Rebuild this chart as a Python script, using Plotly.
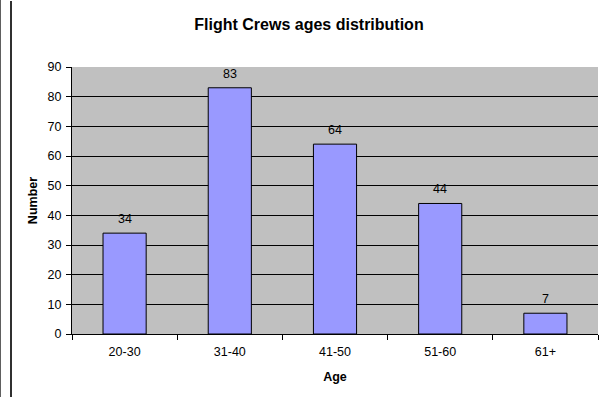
import plotly.graph_objects as go

# Flight crew head count per age band
age_groups = ["20-30", "31-40", "41-50", "51-60", "61+"]
crew_counts = [34, 83, 64, 44, 7]
y_ticks = [0, 10, 20, 30, 40, 50, 60, 70, 80, 90]

FONT = "Arial, Liberation Sans, sans-serif"
W, H = 605, 398
ML, MR, MT, MB = 72, 7, 67, 64


def px_to_paper_x(px):
    return (px - ML) / (W - ML - MR)


def px_to_paper_y(py):
    return (H - MB - py) / (H - MT - MB)


fig = go.Figure(
    go.Bar(
        x=age_groups,
        y=crew_counts,
        marker=dict(color="#9999FF", line=dict(color="#000000", width=1)),
        hoverinfo="x+y",
    )
)

# value labels above each bar
for cat, val in zip(age_groups, crew_counts):
    fig.add_annotation(
        x=cat, y=val, text=str(val), showarrow=False,
        yanchor="bottom", yshift=5,
        font=dict(family=FONT, size=12.5, color="#000000"),
    )

# chart-area frame on the left plus the thin outer edge
frame = [
    (11, H - 1, 11, 1, "#303030", 2),
    (0.5, H - 1, 0.5, 0, "#606060", 1),
]
shapes = [
    dict(type="line", xref="paper", yref="paper",
         x0=px_to_paper_x(x0), y0=px_to_paper_y(y0),
         x1=px_to_paper_x(x1), y1=px_to_paper_y(y1),
         line=dict(color=c, width=w), layer="above")
    for x0, y0, x1, y1, c, w in frame
]

fig.update_layout(
    width=W, height=H, autosize=False,
    margin=dict(l=ML, r=MR, t=MT, b=MB, pad=0),
    paper_bgcolor="#FFFFFF",
    plot_bgcolor="#C0C0C0",
    bargap=0.59,
    showlegend=False,
    font=dict(family=FONT, size=12.5, color="#000000"),
    title=dict(
        text="<b>Flight Crews ages distribution</b>",
        x=309 / W, xanchor="center",
        y=1 - 24 / H, yanchor="middle",
        font=dict(family=FONT, size=16, color="#000000"),
    ),
    xaxis=dict(
        title=dict(text="<b>Age</b>", font=dict(family=FONT, size=12.5), standoff=14),
        tickson="boundaries",
        ticks="outside", ticklen=5, tickcolor="#000000",
        ticklabelstandoff=6,
        showline=True, linecolor="#000000", linewidth=1,
        showgrid=False,
        tickfont=dict(family=FONT, size=12.5),
    ),
    yaxis=dict(
        title=dict(text="<b>Number</b>", font=dict(family=FONT, size=12.5), standoff=7),
        range=[0, 90], tickvals=y_ticks,
        ticks="outside", ticklen=5, tickcolor="#000000",
        ticklabelstandoff=2,
        showline=True, linecolor="#000000", linewidth=1,
        showgrid=True, gridcolor="#000000", gridwidth=1,
        zeroline=False,
        tickfont=dict(family=FONT, size=12.5),
    ),
    shapes=shapes,
)

fig.write_html("out.html")
